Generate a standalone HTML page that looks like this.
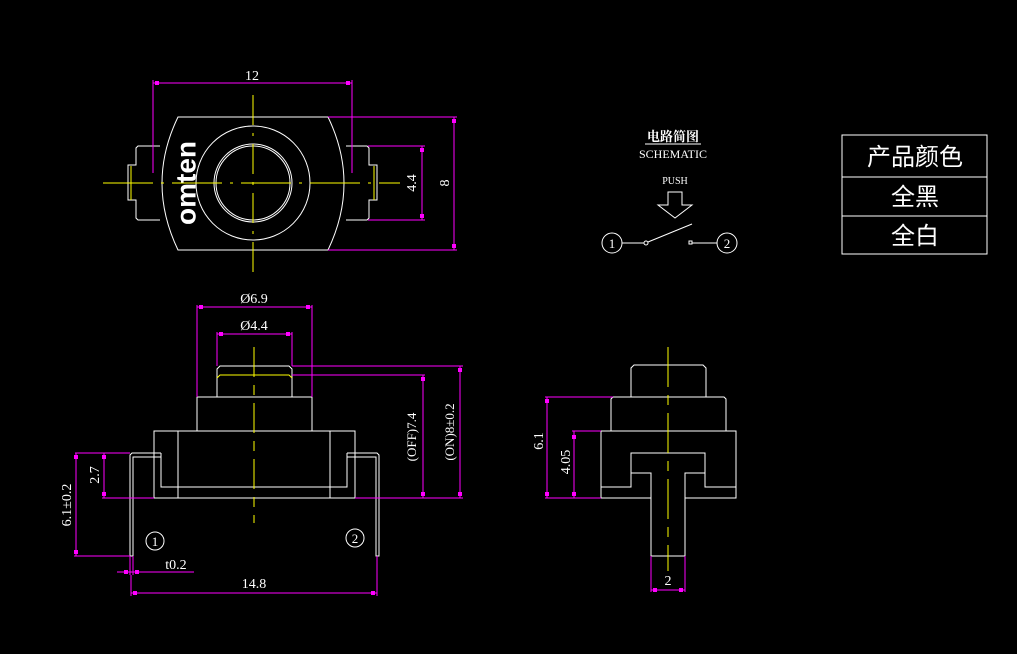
<!DOCTYPE html>
<html><head><meta charset="utf-8"><style>html,body{margin:0;padding:0;background:#000;width:1017px;height:654px;overflow:hidden}</style></head>
<body>
<svg width="1017" height="654" viewBox="0 0 1017 654" xmlns="http://www.w3.org/2000/svg" font-family="'Liberation Serif','Noto Serif CJK SC',serif">
<rect width="1017" height="654" fill="#000"/>
<g fill="none" stroke="#fff" stroke-width="1">
<!-- top view -->
<path d="M178,117 L328,117 Q360,183 328,250 L178,250 Q146,183 178,117 Z"/>
<path d="M160,146 L138,146 L136,148 L136,165 L128,165 L128,200 L136,200 L136,218 L138,220 L160,220"/>
<path d="M346,146 L367,146 L369,148 L369,165 L377,165 L377,200 L369,200 L369,218 L367,220 L346,220"/>
<circle cx="253" cy="183" r="57"/>
<circle cx="253" cy="183" r="37"/>
<circle cx="253" cy="183" r="39"/>
<!-- front view -->
<path d="M217,397 L217,369 L220,366 L289,366 L292,369 L292,397"/>
<rect x="197" y="397" width="115" height="34"/>
<rect x="154" y="431" width="201" height="67"/>
<line x1="178" y1="431" x2="178" y2="498"/><line x1="330" y1="431" x2="330" y2="498"/>
<path d="M161,453 L161,487 L347,487 L347,453"/>
<path d="M161,453 L132,453 L130,455 L130,556 L133,556 L133,457 L161,457"/>
<path d="M347,453 L377,453 L379,455 L379,556 L376,556 L376,457 L347,457"/>
<circle cx="155" cy="541" r="9"/><circle cx="355" cy="538" r="9"/>
<!-- side view -->
<path d="M631,397 L631,368 L634,365 L703,365 L706,368 L706,397"/>
<path d="M611,431 L611,399 L613,397 L724,397 L726,399 L726,431"/>
<rect x="601" y="431" width="135" height="67"/>
<path d="M601,487 L631,487 L631,453 L705,453 L705,487 L736,487"/>
<path d="M631,473 L651,473 L651,556 L685,556 L685,473 L705,473"/>
<line x1="601" y1="498" x2="736" y2="498" stroke="#000" stroke-width="0"/>
<!-- schematic -->
<polygon points="668,192 682,192 682,205 692,205 675,218 658,205 668,205"/>
<circle cx="612" cy="243" r="10"/><line x1="622" y1="243" x2="644" y2="243"/>
<circle cx="646" cy="243" r="2"/><line x1="648" y1="242" x2="692" y2="224"/>
<rect x="689" y="241" width="3" height="3"/><line x1="692" y1="243" x2="717" y2="243"/>
<circle cx="727" cy="243" r="10"/>
<!-- table -->
<rect x="842" y="135" width="145" height="119"/>
<line x1="842" y1="177" x2="987" y2="177"/><line x1="842" y1="216" x2="987" y2="216"/>
</g>
<rect x="651" y="496" width="34" height="4" fill="#000"/>
<line x1="651" y1="473" x2="651" y2="556" stroke="#fff"/><line x1="685" y1="473" x2="685" y2="556" stroke="#fff"/>
<line x1="601" y1="498" x2="651" y2="498" stroke="#fff"/><line x1="685" y1="498" x2="736" y2="498" stroke="#fff"/>
<!-- yellow lines -->
<g stroke="#ff0" stroke-width="1" fill="none">
<line x1="103" y1="183" x2="400" y2="183" stroke-dasharray="50,8,3,8"/>
<line x1="253" y1="95" x2="253" y2="272" stroke-dasharray="30,8,3,8"/>
<line x1="131" y1="166" x2="131" y2="200"/><line x1="374" y1="166" x2="374" y2="200"/>
<path d="M217,378 L220,375 L289,375 L292,378"/>
<line x1="254" y1="347" x2="254" y2="523" stroke-dasharray="30,8,10,8"/>
<line x1="668" y1="347" x2="668" y2="571" stroke-dasharray="40,8,10,8"/>
</g>
<!-- magenta dims -->
<g stroke="#f0f" stroke-width="1" fill="none">
<line x1="153" y1="83" x2="352" y2="83"/><line x1="153" y1="80" x2="153" y2="173"/><line x1="352" y1="80" x2="352" y2="173"/>
<line x1="368" y1="146" x2="425" y2="146"/><line x1="368" y1="220" x2="425" y2="220"/><line x1="422" y1="146" x2="422" y2="220"/>
<line x1="328" y1="117" x2="457" y2="117"/><line x1="328" y1="250" x2="457" y2="250"/><line x1="454" y1="117" x2="454" y2="250"/>
<line x1="197" y1="307" x2="312" y2="307"/><line x1="197" y1="305" x2="197" y2="397"/><line x1="312" y1="305" x2="312" y2="397"/>
<line x1="217" y1="334" x2="292" y2="334"/><line x1="217" y1="332" x2="217" y2="366"/><line x1="292" y1="332" x2="292" y2="366"/>
<line x1="292" y1="366" x2="463" y2="366"/><line x1="292" y1="375" x2="425" y2="375"/><line x1="355" y1="498" x2="463" y2="498"/>
<line x1="102" y1="498" x2="154" y2="498"/>
<line x1="423" y1="375" x2="423" y2="498"/><line x1="460" y1="366" x2="460" y2="498"/>
<line x1="75" y1="453" x2="130" y2="453"/><line x1="74" y1="556" x2="130" y2="556"/>
<line x1="104" y1="453" x2="104" y2="498"/><line x1="76" y1="453" x2="76" y2="556"/>
<line x1="117" y1="572" x2="194" y2="572"/><line x1="130" y1="556" x2="130" y2="575"/><line x1="133" y1="556" x2="133" y2="575"/>
<line x1="131" y1="593" x2="377" y2="593"/><line x1="131" y1="575" x2="131" y2="596"/><line x1="377" y1="556" x2="377" y2="596"/>
<line x1="545" y1="397" x2="613" y2="397"/><line x1="545" y1="498" x2="601" y2="498"/><line x1="572" y1="431" x2="601" y2="431"/>
<line x1="547" y1="397" x2="547" y2="498"/><line x1="574" y1="431" x2="574" y2="498"/>
<line x1="651" y1="556" x2="651" y2="592"/><line x1="685" y1="556" x2="685" y2="592"/><line x1="651" y1="590" x2="685" y2="590"/>
</g>
<g fill="#f0f">
<rect x="155" y="81" width="4" height="4"/><rect x="346" y="81" width="4" height="4"/>
<rect x="420" y="148" width="4" height="4"/><rect x="420" y="214" width="4" height="4"/>
<rect x="452" y="119" width="4" height="4"/><rect x="452" y="244" width="4" height="4"/>
<rect x="199" y="305" width="4" height="4"/><rect x="306" y="305" width="4" height="4"/>
<rect x="219" y="332" width="4" height="4"/><rect x="286" y="332" width="4" height="4"/>
<rect x="421" y="377" width="4" height="4"/><rect x="421" y="492" width="4" height="4"/>
<rect x="458" y="368" width="4" height="4"/><rect x="458" y="492" width="4" height="4"/>
<rect x="102" y="455" width="4" height="4"/><rect x="102" y="492" width="4" height="4"/>
<rect x="74" y="455" width="4" height="4"/><rect x="74" y="550" width="4" height="4"/>
<rect x="124" y="570" width="4" height="4"/><rect x="135" y="570" width="4" height="4"/>
<rect x="133" y="591" width="4" height="4"/><rect x="371" y="591" width="4" height="4"/>
<rect x="545" y="399" width="4" height="4"/><rect x="545" y="492" width="4" height="4"/>
<rect x="572" y="435" width="4" height="4"/><rect x="572" y="492" width="4" height="4"/>
<rect x="653" y="588" width="4" height="4"/><rect x="679" y="588" width="4" height="4"/>
</g>
<!-- text -->
<g fill="#fff" font-size="14" text-anchor="middle">
<text x="252" y="80">12</text>
<text transform="translate(416,183) rotate(-90)">4.4</text>
<text transform="translate(449,183) rotate(-90)">8</text>
<text transform="translate(188,183) rotate(-90)" font-family="'Liberation Sans',sans-serif" font-weight="bold" font-size="28" dominant-baseline="middle">omten</text>
<text x="254" y="303">Ø6.9</text>
<text x="254" y="330">Ø4.4</text>
<text transform="translate(416,437) rotate(-90)" font-size="13">(OFF)7.4</text>
<text transform="translate(454,432) rotate(-90)" font-size="13">(ON)8±0.2</text>
<text transform="translate(99,475) rotate(-90)">2.7</text>
<text transform="translate(71,505) rotate(-90)">6.1±0.2</text>
<text x="176" y="569">t0.2</text>
<text x="254" y="588">14.8</text>
<text transform="translate(543,441) rotate(-90)">6.1</text>
<text transform="translate(570,462) rotate(-90)">4.05</text>
<text x="668" y="585">2</text>
<text x="155" y="546" font-size="13">1</text><text x="355" y="543" font-size="13">2</text>
<text x="612" y="248" font-size="13">1</text><text x="727" y="248" font-size="13">2</text>
<text x="673" y="141" font-size="13" font-weight="bold">电路简图</text>
<line x1="645" y1="144" x2="701" y2="144" stroke="#fff"/>
<text x="673" y="158" font-size="12">SCHEMATIC</text>
<text x="675" y="184" font-size="10">PUSH</text>
<g font-family="'Liberation Sans','Noto Sans CJK SC',sans-serif" font-size="24">
<text x="915" y="165">产品颜色</text>
<text x="915" y="205">全黑</text>
<text x="915" y="244">全白</text>
</g>
</g>
</svg>
</body></html>
